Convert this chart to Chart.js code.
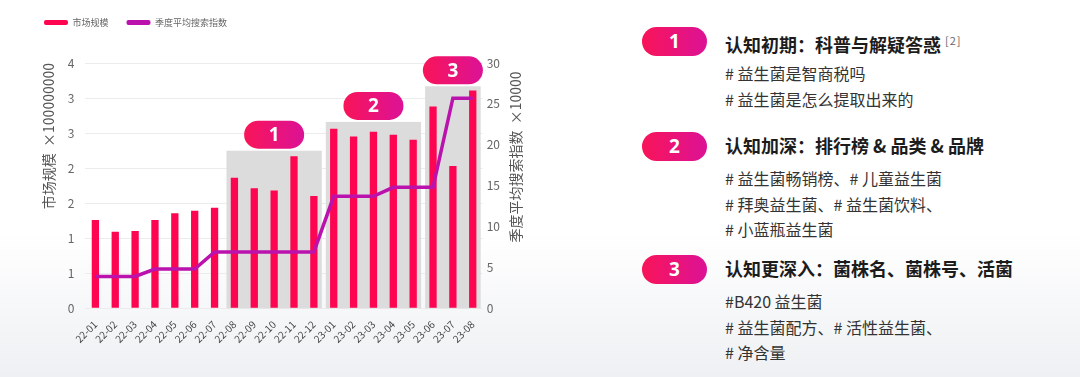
<!DOCTYPE html>
<html lang="zh-CN">
<head>
<meta charset="utf-8">
<script src="https://cdn.jsdelivr.net/npm/chart.js@4.4.0/dist/chart.umd.min.js"></script>
<style>
  html, body { margin: 0; padding: 0; }
  body {
    width: 1080px; height: 377px; overflow: hidden; position: relative;
    background: linear-gradient(180deg, #ffffff 0%, #ffffff 62%, #eef0f3 100%);
    font-family: "Noto Sans CJK SC", "Noto Sans", sans-serif;
  }
  #chartBox { position: absolute; left: 0; top: 0; width: 530px; height: 377px; }
  .pill {
    position: absolute; left: 642px; width: 65px; height: 29px; border-radius: 15px;
    background: linear-gradient(90deg, #f81458, #dc1296);
    color: #fff; font: bold 19px "Noto Sans", sans-serif; text-align: center; line-height: 29px;
  }
  .stage-title {
    position: absolute; left: 725px; font-size: 18px; font-weight: bold; color: #1c1c1c;
    line-height: 24px; white-space: nowrap;
  }
  .stage-title sup { font-size: 11px; font-weight: normal; color: #666; margin-left: 4px; letter-spacing: 1px; }
  .tag { position: absolute; left: 725px; font-size: 16px; color: #333; line-height: 20px; white-space: nowrap; }
</style>
</head>
<body>
<div id="chartBox"><canvas id="chartCanvas"></canvas></div>
<div id="stages"></div>
<script>
// 月份
const months = ['22-01', '22-02', '22-03', '22-04', '22-05', '22-06', '22-07', '22-08', '22-09', '22-10',
                '22-11', '22-12', '23-01', '23-02', '23-03', '23-04', '23-05', '23-06', '23-07', '23-08'];
// 市场规模 (×100000000)
const marketSize = [1.44, 1.25, 1.26, 1.44, 1.55, 1.59, 1.64, 2.13, 1.96, 1.92,
                    2.48, 1.83, 2.93, 2.80, 2.88, 2.83, 2.75, 3.29, 2.32, 3.55];
// 季度平均搜索指数 (×10000)
const searchIndex = [3.9, 3.9, 3.9, 4.8, 4.8, 4.8, 6.9, 6.9, 6.9, 6.9,
                     6.9, 6.9, 13.7, 13.7, 13.7, 14.8, 14.8, 14.8, 25.7, 25.7];

// 認知階段分組 (灰底區塊)
const stageNames = ['1', '2', '3'];
const stageFrom = ['22-08', '23-01', '23-06'];
const stageTo = ['22-12', '23-05', '23-08'];
const stageTop = [2.57, 3.04, 3.62]; // 左軸數值

// 右側說明文字
const stageTitles = ['认知初期：科普与解疑答惑', '认知加深：排行榜 & 品类 & 品牌', '认知更深入：菌株名、菌株号、活菌'];
const stageNotes = ['[2]', '', ''];
const stageTags = [
    ['# 益生菌是智商税吗', '# 益生菌是怎么提取出来的'],
    ['# 益生菌畅销榜、# 儿童益生菌', '# 拜奥益生菌、# 益生菌饮料、', '# 小蓝瓶益生菌'],
    ['#B420 益生菌', '# 益生菌配方、# 活性益生菌、', '# 净含量']
];

// 右側區塊排版
const stageTopPx = [27, 132, 255];
const holder = document.getElementById('stages');
stageTitles.forEach((title, i) => {
    const top = stageTopPx[i];
    const pill = document.createElement('div');
    pill.className = 'pill';
    pill.style.top = top + 'px';
    pill.textContent = stageNames[i];
    holder.appendChild(pill);

    const t = document.createElement('div');
    t.className = 'stage-title';
    t.style.top = (top + 1) + 'px';
    t.textContent = title;
    if (stageNotes[i]) {
        const sup = document.createElement('sup');
        sup.textContent = stageNotes[i];
        t.appendChild(sup);
    }
    holder.appendChild(t);

    stageTags[i].forEach((tag, k) => {
        const d = document.createElement('div');
        d.className = 'tag';
        d.style.top = (top + 36 + k * 25.5) + 'px';
        d.textContent = tag;
        holder.appendChild(d);
    });
});

function pillPath(ctx, x, y, w, h) {
    const r = h / 2;
    ctx.beginPath();
    ctx.moveTo(x + r, y);
    ctx.lineTo(x + w - r, y);
    ctx.arc(x + w - r, y + r, r, -Math.PI / 2, Math.PI / 2);
    ctx.lineTo(x + r, y + h);
    ctx.arc(x + r, y + r, r, Math.PI / 2, Math.PI * 1.5);
    ctx.closePath();
}

// 灰底區塊、編號標籤與右軸標題
const stagePlugin = {
    id: 'stageBoxes',
    beforeDatasetsDraw(chart) {
        const { ctx, scales: { x, y } } = chart;
        const half = (x.getPixelForValue(1) - x.getPixelForValue(0)) / 2;
        ctx.save();
        stageFrom.forEach((from, i) => {
            const left = x.getPixelForValue(months.indexOf(from)) - half + 2;
            const right = x.getPixelForValue(months.indexOf(stageTo[i])) + half - 2;
            const top = y.getPixelForValue(stageTop[i]);
            ctx.fillStyle = '#dcdcdc';
            ctx.fillRect(left, top, right - left, y.getPixelForValue(0) - top);

            const cx = (left + right) / 2, pw = 60, ph = 28, pb = top - 2;
            const g = ctx.createLinearGradient(cx - pw / 2, 0, cx + pw / 2, 0);
            g.addColorStop(0, '#f81458');
            g.addColorStop(1, '#dc1296');
            ctx.fillStyle = g;
            pillPath(ctx, cx - pw / 2, pb - ph, pw, ph);
            ctx.fill();
            ctx.fillStyle = '#ffffff';
            ctx.font = 'bold 19px "Noto Sans", sans-serif';
            ctx.textAlign = 'center';
            ctx.textBaseline = 'middle';
            ctx.fillText(stageNames[i], cx, pb - ph / 2 + 1);
        });
        ctx.restore();
    },
    afterDraw(chart) {
        const { ctx, chartArea } = chart;
        const r = chart.scales.y1;
        ctx.save();
        ctx.translate(r.right + 12, chartArea.top + 94);
        ctx.rotate(-Math.PI / 2);
        ctx.font = '14px "Noto Sans CJK SC", sans-serif';
        ctx.fillStyle = '#555';
        ctx.textAlign = 'center';
        ctx.textBaseline = 'middle';
        ctx.fillText('季度平均搜索指数  ×10000', 0, 0);
        ctx.restore();
    }
};

Chart.defaults.font.family = '"Noto Sans CJK SC", "Noto Sans", sans-serif';

new Chart(document.getElementById('chartCanvas'), {
    type: 'bar',
    data: {
        labels: months,
        datasets: [
            {
                label: '市场规模',
                data: marketSize,
                backgroundColor: '#fe0552',
                yAxisID: 'y',
                order: 1,
                barPercentage: 0.46,
                categoryPercentage: 0.8
            },
            {
                type: 'line',
                label: '季度平均搜索指数',
                data: searchIndex,
                borderColor: '#bb12ad',
                backgroundColor: '#bb12ad',
                borderWidth: 3.5,
                pointRadius: 0,
                fill: false,
                yAxisID: 'y1',
                order: 0
            }
        ]
    },
    options: {
        responsive: true,
        maintainAspectRatio: false,
        animation: false,
        layout: { padding: { left: 26, right: 26, top: 0, bottom: 30 } },
        plugins: {
            tooltip: { enabled: false },
            // 空白標題，只用來拉開圖例與繪圖區的距離
            title: {
                display: true,
                text: ' ',
                weight: 500,
                font: { size: 10 },
                padding: { top: 7, bottom: 7 }
            },
            legend: {
                position: 'top',
                align: 'start',
                labels: {
                    boxWidth: 24,
                    boxHeight: 5,
                    padding: 18,
                    color: '#666',
                    font: { size: 9 },
                    useBorderRadius: true,
                    borderRadius: 2,
                    sort: (a, b) => a.datasetIndex - b.datasetIndex,
                    generateLabels(chart) {
                        const items = Chart.defaults.plugins.legend.labels.generateLabels(chart);
                        items.forEach(it => { it.lineWidth = 0; });
                        return items;
                    }
                }
            }
        },
        scales: {
            x: {
                grid: { display: false },
                border: { display: false },
                ticks: {
                    autoSkip: false,
                    maxRotation: 45,
                    minRotation: 45,
                    padding: 2,
                    color: '#444',
                    font: { size: 10 }
                }
            },
            y: {
                position: 'left',
                min: 0,
                max: 4,
                grid: { color: '#ececec', drawTicks: false },
                border: { display: false },
                ticks: {
                    count: 8,
                    padding: 11,
                    color: '#666',
                    font: { size: 12 },
                    callback: v => Math.round(v)
                },
                title: {
                    display: true,
                    text: '市场规模  ×100000000',
                    align: 'end',
                    color: '#555',
                    font: { size: 14 },
                    padding: { top: 14, bottom: 0 }
                }
            },
            y1: {
                position: 'right',
                min: 0,
                max: 30,
                grid: { display: false, drawTicks: false },
                border: { display: false },
                ticks: {
                    stepSize: 5,
                    padding: 4,
                    color: '#666',
                    font: { size: 12 }
                }
            }
        }
    },
    plugins: [stagePlugin]
});
</script>
</body>
</html>
